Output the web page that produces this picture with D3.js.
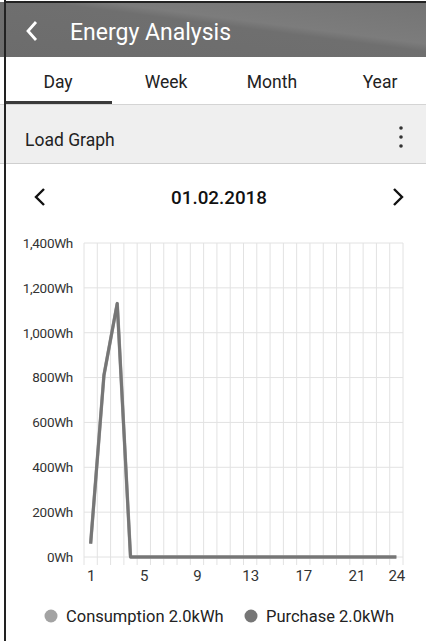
<!DOCTYPE html>
<html><head><meta charset="utf-8">
<script src="https://cdn.jsdelivr.net/npm/d3@7"></script>
<style>
html,body{margin:0;padding:0;background:#fff;}
svg{display:block;font-family:Roboto,"Noto Sans",sans-serif;}
</style></head>
<body>
<svg id="c" width="426" height="641"></svg>
<script>
const hours = d3.range(1, 25);
const consumption = [60, 810, 1130, 0, 0, 0, 0, 0, 0, 0, 0, 0, 0, 0, 0, 0, 0, 0, 0, 0, 0, 0, 0, 0];
const purchase = [60, 810, 1130, 0, 0, 0, 0, 0, 0, 0, 0, 0, 0, 0, 0, 0, 0, 0, 0, 0, 0, 0, 0, 0];
const yTicks = [0, 200, 400, 600, 800, 1000, 1200, 1400];
const xTicks = [1, 5, 9, 13, 17, 21, 24];
const tabs = ["Day", "Week", "Month", "Year"];
const legend = [{name: "Consumption 2.0kWh", color: "#a3a3a3"}, {name: "Purchase 2.0kWh", color: "#767676"}];

const svg = d3.select("#c");
const defs = svg.append("defs");
const g1 = defs.append("linearGradient").attr("id","hg").attr("x1","0").attr("y1","1").attr("x2","1").attr("y2","0");
g1.append("stop").attr("offset","0").attr("stop-color","#6c6c6c");
g1.append("stop").attr("offset","0.55").attr("stop-color","#6f6f6f");
g1.append("stop").attr("offset","0.62").attr("stop-color","#7c7c7c");
g1.append("stop").attr("offset","1").attr("stop-color","#747474");

// header
svg.append("rect").attr("x",0).attr("y",2).attr("width",426).attr("height",55).attr("fill","url(#hg)");
svg.append("path").attr("d","M36,22 L28,31 L36,40").attr("fill","none").attr("stroke","#fff").attr("stroke-width",2.8);
svg.append("text").attr("x",70).attr("y",40).attr("fill","#fff").attr("font-size",23).text("Energy Analysis");

// tabs
const tabX = [58, 166, 272, 380];
tabs.forEach((t,i)=>{
  svg.append("text").attr("x",tabX[i]).attr("y",88).attr("text-anchor","middle").attr("font-size",17.5).attr("fill","#222").text(t);
});
svg.append("rect").attr("x",0).attr("y",104).attr("width",426).attr("height",59).attr("fill","#efefef");
svg.append("line").attr("x1",0).attr("x2",426).attr("y1",104.5).attr("y2",104.5).attr("stroke","#d4d4d4");
svg.append("rect").attr("x",5).attr("y",101).attr("width",107).attr("height",3).attr("fill","#3a3a3a");
svg.append("text").attr("x",25).attr("y",146).attr("font-size",17.5).attr("fill","#222").text("Load Graph");
[128,137,146].forEach(y=>svg.append("circle").attr("cx",401).attr("cy",y).attr("r",1.8).attr("fill","#333"));
svg.append("line").attr("x1",0).attr("x2",426).attr("y1",163.5).attr("y2",163.5).attr("stroke","#cfcfcf");

// date row
svg.append("path").attr("d","M44,189 L36,197 L44,205").attr("fill","none").attr("stroke","#111").attr("stroke-width",2.4);
svg.append("path").attr("d","M394,189 L402,197 L394,205").attr("fill","none").attr("stroke","#111").attr("stroke-width",2.4);
svg.append("text").attr("x",219).attr("y",204).attr("text-anchor","middle").attr("font-size",18.8).attr("font-weight",500).attr("fill","#111").text("01.02.2018");

// chart
const x = d3.scaleLinear().domain([0.5, 24.5]).range([84, 403]);
const y = d3.scaleLinear().domain([0, 1400]).range([557, 243]);

const grid = svg.append("g");
grid.selectAll("line.v").data(d3.range(0.5, 25, 1)).join("line")
  .attr("x1",d=>x(d)).attr("x2",d=>x(d)).attr("y1",y(1400)).attr("y2",y(0)+8)
  .attr("stroke","#e2e2e2").attr("stroke-width",1);
grid.selectAll("line.h").data(yTicks).join("line")
  .attr("x1",x(0.5)).attr("x2",x(24.5)).attr("y1",d=>y(d)).attr("y2",d=>y(d))
  .attr("stroke","#e2e2e2").attr("stroke-width",1);

const yAxis = svg.append("g").attr("transform","translate(73,0)")
  .call(d3.axisLeft(y).tickValues(yTicks).tickSize(0).tickPadding(0).tickFormat(d=>d3.format(",")(d)+"Wh"));
yAxis.select(".domain").remove();
yAxis.selectAll("text").attr("font-size",13.5).attr("fill","#333").attr("letter-spacing","-0.3").attr("font-family","Roboto,sans-serif");

const xAxis = svg.append("g").attr("transform","translate(0,570)")
  .call(d3.axisBottom(x).tickValues(xTicks).tickSize(0).tickPadding(0).tickFormat(d3.format("d")));
xAxis.select(".domain").remove();
xAxis.selectAll("text").attr("font-size",15).attr("fill","#333").attr("font-family","Roboto,sans-serif");

const line = d3.line().x((d,i)=>x(hours[i])).y(d=>y(d));
svg.append("path").datum(consumption).attr("d",line).attr("fill","none").attr("stroke",legend[0].color).attr("stroke-width",3.4).attr("stroke-linejoin","round");
svg.append("path").datum(purchase).attr("d",line).attr("fill","none").attr("stroke",legend[1].color).attr("stroke-width",3).attr("stroke-linejoin","round");

// legend
const lx = [51, 251];
legend.forEach((l,i)=>{
  svg.append("circle").attr("cx",lx[i]).attr("cy",616).attr("r",6.5).attr("fill",l.color);
  svg.append("text").attr("x",lx[i]+15).attr("y",622).attr("font-size",16.5).attr("fill","#222").text(l.name);
});

// borders
svg.append("rect").attr("x",4).attr("y",0).attr("width",2).attr("height",641).attr("fill","#222");
svg.append("rect").attr("x",4).attr("y",1).attr("width",422).attr("height",2).attr("fill","#222");
</script>
</body></html>
